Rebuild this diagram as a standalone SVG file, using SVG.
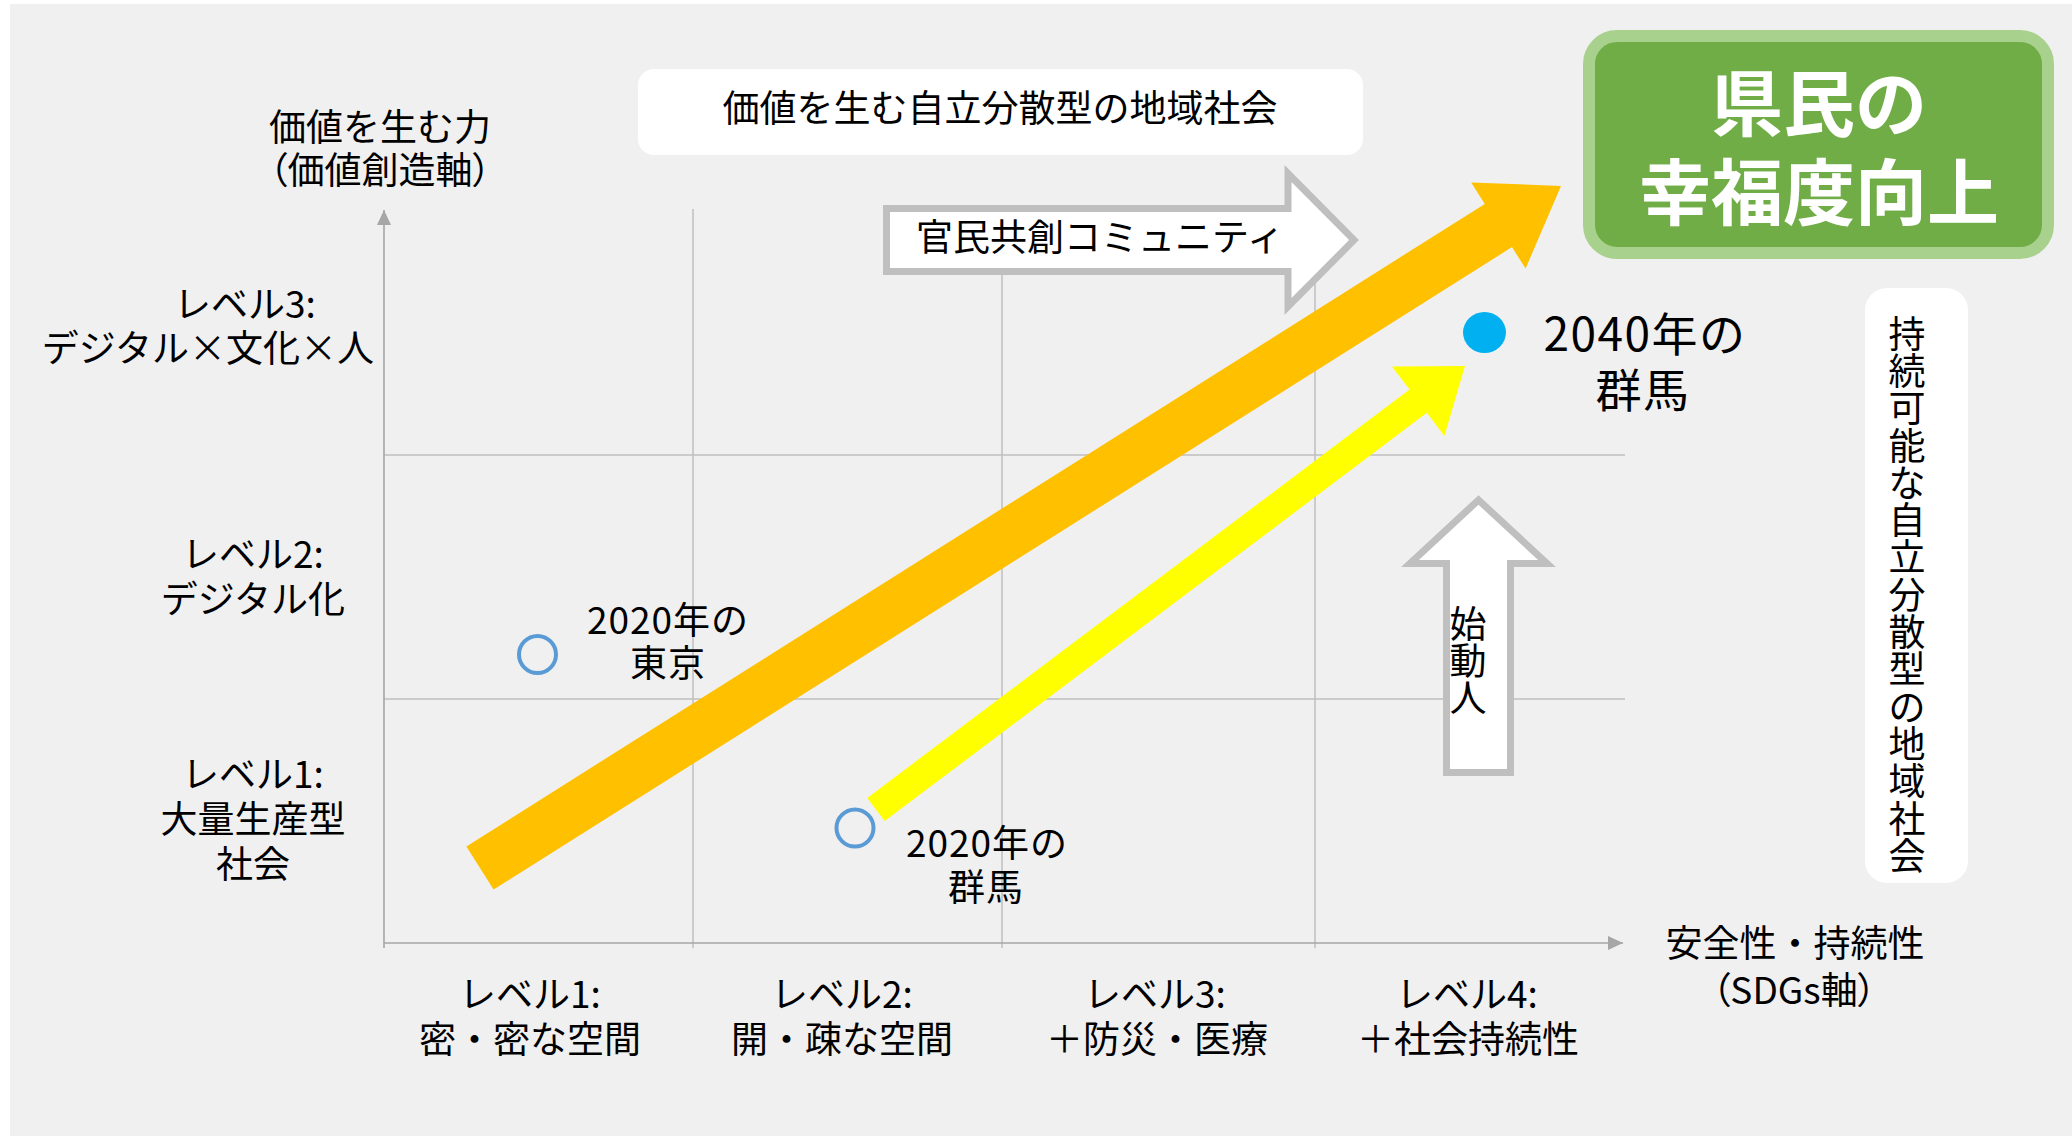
<svg xmlns="http://www.w3.org/2000/svg" width="2072" height="1136" viewBox="0 0 2072 1136">
<style>
.t{font-family:"Noto Sans CJK JP","Noto Sans",sans-serif;font-size:37px;fill:#000;text-anchor:middle;dominant-baseline:central}
.p{font-feature-settings:"palt"}
.big{font-family:"Noto Sans CJK JP","Noto Sans",sans-serif;font-size:72px;font-weight:bold;fill:#fff;text-anchor:middle;dominant-baseline:central}
.mid{font-size:46px}
.grid{stroke:#bfbfbf;stroke-width:1.6;fill:none}
.vgrid{stroke:#b3b3b3;stroke-width:1.2;fill:none}
.axis{stroke:#a6a6a6;stroke-width:1.6;fill:none}
.blk{fill:#fff;stroke:#bfbfbf;stroke-width:7;stroke-linejoin:miter}
.ring{fill:none;stroke:#5b9bd5;stroke-width:4}
</style>
<defs>
<marker id="ah" markerWidth="16" markerHeight="14" refX="15" refY="7" orient="auto" markerUnits="userSpaceOnUse">
<path d="M0,0 L15,7 L0,14 Z" fill="#a6a6a6"/>
</marker>
</defs>
<rect x="0" y="0" width="2072" height="1136" fill="#ffffff"/>
<rect x="10" y="4" width="2062" height="1132" fill="#f0f0f0"/>

<g id="grid">
<line class="vgrid" x1="693" y1="209" x2="693" y2="948"/>
<line class="vgrid" x1="1002" y1="209" x2="1002" y2="948"/>
<line class="vgrid" x1="1315" y1="209" x2="1315" y2="948"/>
<line class="grid" x1="384" y1="455" x2="1625" y2="455"/>
<line class="grid" x1="384" y1="699" x2="1625" y2="699"/>
</g>

<g id="connectors">
<line class="axis" x1="384" y1="948" x2="384" y2="210" marker-end="url(#ah)"/>
<line class="axis" x1="384" y1="943" x2="1623" y2="943" marker-end="url(#ah)"/>
<polygon id="orange-arrow" fill="#ffc000" points="493.6,889.6 466.4,846.4 1484.8,203.9 1471.2,182.4 1561,186 1525.6,268.6 1512,247.1"/>
<polygon id="yellow-arrow" fill="#ffff00" points="884.7,821.1 867.3,797.9 1409.5,389.6 1392,366.4 1465,366 1444.4,436 1426.9,412.8"/>
</g>

<g id="y-axis-title">
<text class="t"><tspan x="380" y="125">価値を生む力</tspan><tspan class="p" x="380" y="168">（価値創造軸）</tspan></text>
</g>
<g id="y-level3">
<text class="t"><tspan x="245" y="302">レベル3:</tspan><tspan x="208" y="346">デジタル×文化×人</tspan></text>
</g>
<g id="y-level2">
<text class="t"><tspan x="253" y="552">レベル2:</tspan><tspan x="253" y="597">デジタル化</tspan></text>
</g>
<g id="y-level1">
<text class="t"><tspan x="253" y="772">レベル1:</tspan><tspan x="253" y="817">大量生産型</tspan><tspan x="253" y="862">社会</tspan></text>
</g>

<g id="x-level1">
<text class="t"><tspan x="530" y="992">レベル1:</tspan><tspan x="530" y="1037">密・密な空間</tspan></text>
</g>
<g id="x-level2">
<text class="t"><tspan x="842" y="992">レベル2:</tspan><tspan x="842" y="1037">開・疎な空間</tspan></text>
</g>
<g id="x-level3">
<text class="t"><tspan x="1155" y="992">レベル3:</tspan><tspan x="1157" y="1037">＋防災・医療</tspan></text>
</g>
<g id="x-level4">
<text class="t"><tspan x="1467" y="992">レベル4:</tspan><tspan x="1468" y="1037">＋社会持続性</tspan></text>
</g>
<g id="x-axis-title">
<text class="t"><tspan x="1795" y="941">安全性・持続性</tspan><tspan class="p" x="1794" y="988">（SDGs軸）</tspan></text>
</g>

<g id="top-box">
<rect x="638" y="69" width="725" height="86" rx="16" fill="#ffffff"/>
<text class="t" x="1000" y="106">価値を生む自立分散型の地域社会</text>
</g>

<g id="community-arrow">
<path class="blk" d="M886.5,208.5 H1288 V173.5 L1354,240 L1288,306.5 V271.5 H886.5 Z"/>
<text class="t" x="1100" y="235">官民共創コミュニティ</text>
</g>

<g id="goal-box">
<rect x="1589" y="36" width="459" height="217" rx="28" fill="#70ad47" stroke="#a9d18e" stroke-width="12"/>
<text class="big"><tspan x="1819" y="98">県民の</tspan><tspan x="1819" y="187">幸福度向上</tspan></text>
</g>

<g id="gunma-2040">
<ellipse cx="1484.5" cy="332.5" rx="21.5" ry="20.5" fill="#00b0f0"/>
<text class="t mid" letter-spacing="1.5"><tspan x="1645" y="331">2040年の</tspan><tspan x="1643" y="387">群馬</tspan></text>
</g>

<g id="tokyo-2020">
<circle class="ring" cx="537.5" cy="654.5" r="18.5"/>
<text class="t" letter-spacing="1"><tspan x="668" y="618">2020年の</tspan><tspan x="668" y="661">東京</tspan></text>
</g>

<g id="gunma-2020">
<circle class="ring" cx="855" cy="828" r="18.5"/>
<text class="t" letter-spacing="1"><tspan x="987" y="841">2020年の</tspan><tspan x="986" y="885">群馬</tspan></text>
</g>

<g id="shidoujin-arrow">
<path class="blk" d="M1446.5,772.5 V563.5 H1410 L1478.5,500 L1547,563.5 H1510.5 V772.5 Z"/>
<text class="t" x="1468 1468 1468" y="622 659 696">始動人</text>
</g>

<g id="side-box">
<rect x="1865" y="288" width="103" height="595" rx="22" fill="#ffffff"/>
<text class="t" x="1907 1907 1907 1907 1907 1907 1907 1907 1907 1907 1907 1907 1907 1907 1907" y="331.5 368.8 406.1 443.5 480.8 518.1 555.4 592.7 630.1 667.4 704.7 742 779.3 816.7 854">持続可能な自立分散型の地域社会</text>
</g>
</svg>
